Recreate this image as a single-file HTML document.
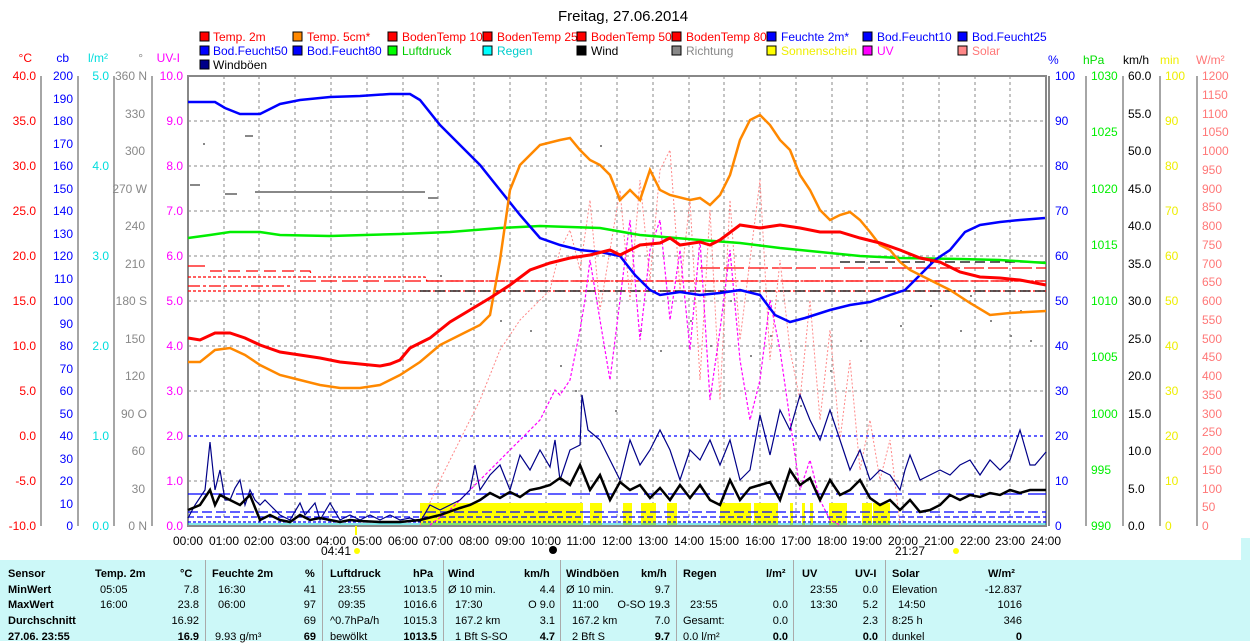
<!DOCTYPE html>
<html><head><meta charset="utf-8"><style>
html,body{margin:0;padding:0;background:#fff;width:1250px;height:641px;overflow:hidden}
svg text{font-family:"Liberation Sans",sans-serif;font-size:12px}
#tbl{position:absolute;left:0;top:560px;width:1250px;height:81px;background:#ccf8f8;font-family:"Liberation Sans",sans-serif;font-size:11px}
#tbl div{position:absolute;white-space:nowrap}
.b{font-weight:bold}
.sep{width:1px;height:81px;top:0;background:#aaa}
</style></head><body>
<svg width="1250" height="560" style="position:absolute;left:0;top:0" xmlns="http://www.w3.org/2000/svg">
<text x="623" y="21" text-anchor="middle" style="font-size:15px">Freitag, 27.06.2014</text>
<g id="legend" style="font-size:11.5px">
<rect x="200" y="32" width="9" height="9" fill="#f00" stroke="#000"/><text x="213" y="41" fill="#f00">Temp. 2m</text>
<rect x="293" y="32" width="9" height="9" fill="#f80" stroke="#000"/><text x="307" y="41" fill="#f00">Temp. 5cm*</text>
<rect x="388" y="32" width="9" height="9" fill="#f00" stroke="#000"/><text x="402" y="41" fill="#f00">BodenTemp 10</text>
<rect x="483" y="32" width="9" height="9" fill="#f00" stroke="#000"/><text x="497" y="41" fill="#f00">BodenTemp 25</text>
<rect x="577" y="32" width="9" height="9" fill="#f00" stroke="#000"/><text x="591" y="41" fill="#f00">BodenTemp 50</text>
<rect x="672" y="32" width="9" height="9" fill="#f00" stroke="#000"/><text x="686" y="41" fill="#f00">BodenTemp 80</text>
<rect x="767" y="32" width="9" height="9" fill="#00f" stroke="#000"/><text x="781" y="41" fill="#00f">Feuchte 2m*</text>
<rect x="863" y="32" width="9" height="9" fill="#00f" stroke="#000"/><text x="877" y="41" fill="#00f">Bod.Feucht10</text>
<rect x="958" y="32" width="9" height="9" fill="#00f" stroke="#000"/><text x="972" y="41" fill="#00f">Bod.Feucht25</text>
<rect x="200" y="46" width="9" height="9" fill="#00f" stroke="#000"/><text x="213" y="55" fill="#00f">Bod.Feucht50</text>
<rect x="293" y="46" width="9" height="9" fill="#00f" stroke="#000"/><text x="307" y="55" fill="#00f">Bod.Feucht80</text>
<rect x="388" y="46" width="9" height="9" fill="#0f0" stroke="#000"/><text x="402" y="55" fill="#0c0">Luftdruck</text>
<rect x="483" y="46" width="9" height="9" fill="#0ff" stroke="#000"/><text x="497" y="55" fill="#0cc">Regen</text>
<rect x="577" y="46" width="9" height="9" fill="#000" stroke="#000"/><text x="591" y="55">Wind</text>
<rect x="672" y="46" width="9" height="9" fill="#888" stroke="#000"/><text x="686" y="55" fill="#888">Richtung</text>
<rect x="767" y="46" width="9" height="9" fill="#ff0" stroke="#000"/><text x="781" y="55" fill="#ee0">Sonnenschein</text>
<rect x="863" y="46" width="9" height="9" fill="#f0f" stroke="#000"/><text x="877" y="55" fill="#f0f">UV</text>
<rect x="958" y="46" width="9" height="9" fill="#f88" stroke="#000"/><text x="972" y="55" fill="#f77">Solar</text>
<rect x="200" y="60" width="9" height="9" fill="#008" stroke="#000"/><text x="213" y="69">Windböen</text>
</g>
<!-- grid -->
<g stroke="#888" stroke-dasharray="3,3" stroke-width="1">
<path d="M188 121H1046M188 166H1046M188 211H1046M188 256H1046M188 301H1046M188 346H1046M188 391H1046M188 436H1046M188 481H1046"/>
<path d="M224 76V526M259 76V526M295 76V526M331 76V526M367 76V526M403 76V526M438 76V526M474 76V526M510 76V526M546 76V526M581 76V526M617 76V526M653 76V526M689 76V526M724 76V526M760 76V526M796 76V526M832 76V526M867 76V526M903 76V526M939 76V526M975 76V526M1010 76V526"/>
</g>
<rect x="188" y="76" width="858" height="450" fill="none" stroke="#888" stroke-width="2"/>
<line x1="1049" y1="76" x2="1049" y2="526" stroke="#888" stroke-width="2"/>
<!-- axes lines -->
<g stroke="#888" stroke-width="1.5" fill="none">
<path d="M41 76V526M78 76V526M114 76V526M152 76V526M1086 76V526M1123 76V526M1160 76V526M1197 76V526"/>
</g>
<g id="axl" style="font-size:12px" text-anchor="end">
<text x="32" y="62" fill="#f00">°C</text><text x="69" y="62" fill="#00f">cb</text><text x="108" y="62" fill="#0dd">l/m²</text><text x="143" y="62" fill="#888">°</text><text x="180" y="62" fill="#f0f">UV-I</text>
</g>
<g style="font-size:12px" fill="#f00" text-anchor="end">
<text x="36" y="80">40.0</text><text x="36" y="125">35.0</text><text x="36" y="170">30.0</text><text x="36" y="215">25.0</text><text x="36" y="260">20.0</text><text x="36" y="305">15.0</text><text x="36" y="350">10.0</text><text x="36" y="395">5.0</text><text x="36" y="440">0.0</text><text x="36" y="485">-5.0</text><text x="36" y="530">-10.0</text>
</g>
<g style="font-size:12px" fill="#00f" text-anchor="end">
<text x="73" y="80">200</text><text x="73" y="103">190</text><text x="73" y="125">180</text><text x="73" y="148">170</text><text x="73" y="170">160</text><text x="73" y="193">150</text><text x="73" y="215">140</text><text x="73" y="238">130</text><text x="73" y="260">120</text><text x="73" y="283">110</text><text x="73" y="305">100</text><text x="73" y="328">90</text><text x="73" y="350">80</text><text x="73" y="373">70</text><text x="73" y="395">60</text><text x="73" y="418">50</text><text x="73" y="440">40</text><text x="73" y="463">30</text><text x="73" y="485">20</text><text x="73" y="508">10</text><text x="73" y="530">0</text>
</g>
<g style="font-size:12px" fill="#0dd" text-anchor="end">
<text x="109" y="80">5.0</text><text x="109" y="170">4.0</text><text x="109" y="260">3.0</text><text x="109" y="350">2.0</text><text x="109" y="440">1.0</text><text x="109" y="530">0.0</text>
</g>
<g style="font-size:12px" fill="#888" text-anchor="end">
<text x="147" y="80">360 N</text><text x="145" y="118">330</text><text x="145" y="155">300</text><text x="147" y="193">270 W</text><text x="145" y="230">240</text><text x="145" y="268">210</text><text x="147" y="305">180 S</text><text x="145" y="343">150</text><text x="145" y="380">120</text><text x="147" y="418">90  O</text><text x="145" y="455">60</text><text x="145" y="493">30</text><text x="147" y="530">0    N</text>
</g>
<g style="font-size:12px" fill="#f0f" text-anchor="end">
<text x="183" y="80">10.0</text><text x="183" y="125">9.0</text><text x="183" y="170">8.0</text><text x="183" y="215">7.0</text><text x="183" y="260">6.0</text><text x="183" y="305">5.0</text><text x="183" y="350">4.0</text><text x="183" y="395">3.0</text><text x="183" y="440">2.0</text><text x="183" y="485">1.0</text><text x="183" y="530">0.0</text>
</g>
<!-- right axes -->
<g style="font-size:12px">
<text x="1048" y="64" fill="#00f">%</text><text x="1083" y="64" fill="#0d0">hPa</text><text x="1123" y="64">km/h</text><text x="1160" y="64" fill="#ee0">min</text><text x="1196" y="64" fill="#f77">W/m²</text>
</g>
<g style="font-size:12px" fill="#00f">
<text x="1055" y="80">100</text><text x="1055" y="125">90</text><text x="1055" y="170">80</text><text x="1055" y="215">70</text><text x="1055" y="260">60</text><text x="1055" y="305">50</text><text x="1055" y="350">40</text><text x="1055" y="395">30</text><text x="1055" y="440">20</text><text x="1055" y="485">10</text><text x="1055" y="530">0</text>
</g>
<g style="font-size:12px" fill="#0e0">
<text x="1091" y="80">1030</text><text x="1091" y="136">1025</text><text x="1091" y="193">1020</text><text x="1091" y="249">1015</text><text x="1091" y="305">1010</text><text x="1091" y="361">1005</text><text x="1091" y="418">1000</text><text x="1091" y="474">995</text><text x="1091" y="530">990</text>
</g>
<g style="font-size:12px">
<text x="1128" y="80">60.0</text><text x="1128" y="118">55.0</text><text x="1128" y="155">50.0</text><text x="1128" y="193">45.0</text><text x="1128" y="230">40.0</text><text x="1128" y="268">35.0</text><text x="1128" y="305">30.0</text><text x="1128" y="343">25.0</text><text x="1128" y="380">20.0</text><text x="1128" y="418">15.0</text><text x="1128" y="455">10.0</text><text x="1128" y="493">5.0</text><text x="1128" y="530">0.0</text>
</g>
<g style="font-size:12px" fill="#ee0">
<text x="1165" y="80">100</text><text x="1165" y="125">90</text><text x="1165" y="170">80</text><text x="1165" y="215">70</text><text x="1165" y="260">60</text><text x="1165" y="305">50</text><text x="1165" y="350">40</text><text x="1165" y="395">30</text><text x="1165" y="440">20</text><text x="1165" y="485">10</text><text x="1165" y="530">0</text>
</g>
<g style="font-size:12px" fill="#f77">
<text x="1202" y="80">1200</text><text x="1202" y="99">1150</text><text x="1202" y="118">1100</text><text x="1202" y="136">1050</text><text x="1202" y="155">1000</text><text x="1202" y="174">950</text><text x="1202" y="193">900</text><text x="1202" y="211">850</text><text x="1202" y="230">800</text><text x="1202" y="249">750</text><text x="1202" y="268">700</text><text x="1202" y="286">650</text><text x="1202" y="305">600</text><text x="1202" y="324">550</text><text x="1202" y="343">500</text><text x="1202" y="361">450</text><text x="1202" y="380">400</text><text x="1202" y="399">350</text><text x="1202" y="418">300</text><text x="1202" y="436">250</text><text x="1202" y="455">200</text><text x="1202" y="474">150</text><text x="1202" y="493">100</text><text x="1202" y="511">50</text><text x="1202" y="530">0</text>
</g>
<!-- x labels -->
<g style="font-size:12px" text-anchor="middle">
<text x="188" y="545">00:00</text><text x="224" y="545">01:00</text><text x="259" y="545">02:00</text><text x="295" y="545">03:00</text><text x="331" y="545">04:00</text><text x="367" y="545">05:00</text><text x="403" y="545">06:00</text><text x="438" y="545">07:00</text><text x="474" y="545">08:00</text><text x="510" y="545">09:00</text><text x="546" y="545">10:00</text><text x="581" y="545">11:00</text><text x="617" y="545">12:00</text><text x="653" y="545">13:00</text><text x="689" y="545">14:00</text><text x="724" y="545">15:00</text><text x="760" y="545">16:00</text><text x="796" y="545">17:00</text><text x="832" y="545">18:00</text><text x="867" y="545">19:00</text><text x="903" y="545">20:00</text><text x="939" y="545">21:00</text><text x="975" y="545">22:00</text><text x="1010" y="545">23:00</text><text x="1046" y="545">24:00</text>
<text x="336" y="555">04:41</text><text x="910" y="555">21:27</text>
</g>
<circle cx="357" cy="551" r="3" fill="#ff0"/><circle cx="956" cy="551" r="3" fill="#ff0"/>
<circle cx="553" cy="550" r="4" fill="#000"/>
<line x1="356" y1="526" x2="356" y2="535" stroke="#ff0" stroke-width="2"/>
<!-- sunshine -->
<g fill="#ff0">
<rect x="420" y="503" width="163" height="22"/><rect x="590" y="503" width="12" height="22"/><rect x="623" y="503" width="9" height="22"/><rect x="641" y="503" width="15" height="22"/><rect x="667" y="503" width="10" height="22"/><rect x="720" y="503" width="31" height="22"/><rect x="754" y="503" width="24" height="22"/><rect x="790" y="503" width="3" height="22"/><rect x="802" y="503" width="3" height="22"/><rect x="810" y="503" width="3" height="22"/><rect x="829" y="503" width="18" height="22"/><rect x="862" y="503" width="10" height="22"/><rect x="873" y="503" width="17" height="22"/>
</g>
<!-- dashed ref lines -->
<g fill="none" stroke-width="1.3">
<path d="M188 436H1046" stroke="#00f" stroke-dasharray="3,3"/>
<path d="M188 494H1046" stroke="#00f" stroke-dasharray="18,6"/>
<path d="M188 512H1046" stroke="#00f" stroke-dasharray="10,4"/>
<path d="M188 517H1046" stroke="#00f" stroke-dasharray="6,3"/>
<path d="M188 522H1046" stroke="#00f" stroke-dasharray="3,2"/>
<path d="M188 524H1046" stroke="#0cc" stroke-width="1"/>
<path d="M188 266H205" stroke="#f00"/>
<path d="M210 271H310L312 276" stroke="#f00" stroke-dasharray="12,6"/>
<path d="M188 277H425L427 281H1046" stroke="#f00" stroke-dasharray="3,2"/>
<path d="M300 281H1046" stroke="#f00" stroke-dasharray="16,5"/>
<path d="M188 286H290" stroke="#f00" stroke-dasharray="12,3,3,3"/>
<path d="M188 291H1046" stroke="#f00" stroke-dasharray="3,2"/>
<path d="M700 268H1046" stroke="#f00" stroke-dasharray="20,4"/>
<path d="M420 291H1046" stroke="#000" stroke-dasharray="10,5"/>
<path d="M840 262H1046" stroke="#000" stroke-dasharray="10,5"/>
</g>
<!-- direction dots -->
<g fill="#888">
<rect x="190" y="184" width="10" height="2"/><rect x="203" y="143" width="2" height="2"/><rect x="245" y="135" width="8" height="2"/><rect x="225" y="193" width="12" height="2"/><rect x="255" y="191" width="170" height="2"/><rect x="428" y="197" width="10" height="2"/>
<rect x="440" y="275" width="2" height="2"/><rect x="470" y="303" width="2" height="2"/><rect x="500" y="320" width="2" height="2"/><rect x="530" y="330" width="2" height="2"/><rect x="560" y="365" width="2" height="2"/><rect x="575" y="390" width="2" height="2"/><rect x="600" y="145" width="2" height="2"/><rect x="615" y="410" width="2" height="2"/><rect x="640" y="330" width="2" height="2"/><rect x="660" y="350" width="2" height="2"/><rect x="690" y="320" width="2" height="2"/><rect x="710" y="345" width="2" height="2"/><rect x="730" y="300" width="2" height="2"/><rect x="750" y="355" width="2" height="2"/><rect x="770" y="335" width="2" height="2"/><rect x="800" y="405" width="2" height="2"/><rect x="830" y="370" width="2" height="2"/><rect x="860" y="340" width="2" height="2"/><rect x="900" y="325" width="2" height="2"/><rect x="930" y="305" width="2" height="2"/><rect x="960" y="330" width="2" height="2"/><rect x="990" y="320" width="2" height="2"/><rect x="1010" y="335" width="2" height="2"/><rect x="1030" y="340" width="2" height="2"/><rect x="1020" y="310" width="2" height="2"/><rect x="970" y="295" width="2" height="2"/>
</g>
<!-- solar -->
<polyline fill="none" stroke="#f88" stroke-width="1" stroke-dasharray="2,2" points="420,525 440,480 460,440 480,400 500,350 520,320 550,290 560,250 570,230 580,270 590,200 600,310 610,250 620,190 630,300 640,180 650,280 660,170 670,150 680,290 690,200 700,380 710,210 720,400 730,200 740,340 750,260 760,180 770,360 780,260 790,350 800,400 810,300 820,420 830,330 840,440 850,360 860,470 870,420 880,480 890,440 900,525"/>
<!-- UV -->
<polyline fill="none" stroke="#f0f" stroke-width="1.2" stroke-dasharray="3,2" points="430,525 450,510 480,480 510,450 540,420 555,390 560,395 570,380 580,330 585,300 590,260 600,320 610,380 620,300 630,220 640,340 650,250 660,220 670,320 680,250 690,350 700,240 710,400 720,330 730,250 740,360 750,420 760,380 770,300 780,350 790,420 800,490 810,460 820,500 830,520 840,525"/>
<!-- gusts -->
<polyline fill="none" stroke="#008" stroke-width="1.2" points="188,518 195,505 205,490 210,442 215,490 220,470 225,500 230,500 235,488 240,480 245,505 250,490 255,500 260,505 265,500 270,505 280,515 290,520 300,503 305,515 315,503 320,520 330,503 340,520 350,515 360,520 370,515 380,520 390,515 400,520 410,518 420,522 430,505 440,510 450,505 460,500 470,490 475,465 480,490 490,475 500,465 510,490 520,455 530,470 540,450 550,467 555,440 560,480 570,450 580,445 582,395 588,430 600,440 610,460 620,480 630,440 640,465 650,450 660,430 670,450 680,480 690,450 700,460 710,440 720,465 730,440 740,480 750,470 760,415 770,455 780,410 790,430 800,395 810,420 820,440 830,410 840,440 850,470 860,450 870,480 880,470 890,475 900,490 905,470 910,455 920,480 930,475 940,470 950,475 960,465 970,460 980,475 990,460 1000,470 1010,460 1020,430 1030,465 1035,465 1046,452"/>
<!-- wind -->
<polyline fill="none" stroke="#000" stroke-width="2.5" points="188,510 200,505 210,490 215,505 220,495 230,500 240,505 250,495 260,520 270,515 280,520 290,522 300,515 310,520 320,518 330,520 340,522 350,520 360,521 380,522 400,522 420,520 440,515 460,508 470,505 480,500 490,493 500,498 510,492 520,497 530,490 540,488 550,485 560,478 570,485 580,465 590,490 600,475 610,500 620,482 630,490 640,485 650,498 660,488 670,500 680,485 690,498 700,485 710,500 720,505 730,480 740,500 750,488 760,485 770,482 780,500 790,470 800,485 810,478 820,500 830,480 840,495 850,490 860,480 870,498 880,505 890,500 900,510 910,500 920,512 930,510 940,505 950,495 960,500 970,495 980,497 990,493 1000,495 1010,490 1020,493 1030,490 1046,490"/>
<!-- pressure -->
<polyline fill="none" stroke="#0e0" stroke-width="2.5" points="188,238 210,235 230,232 260,232 280,235 330,236 400,234 450,232 500,228 540,226 600,228 640,235 700,240 740,243 780,248 820,252 860,256 900,258 960,259 1000,260 1046,263"/>
<!-- humidity -->
<polyline fill="none" stroke="#00f" stroke-width="2.5" points="188,102 215,102 225,108 240,114 260,114 280,104 300,100 330,97 360,96 390,94 410,94 420,100 440,125 460,145 480,165 500,190 520,215 540,238 560,245 580,250 600,252 620,256 635,275 650,290 660,295 680,292 700,295 720,293 740,290 760,295 775,315 790,322 805,318 830,310 850,305 870,302 890,295 905,290 920,275 935,260 950,250 965,232 980,225 1000,222 1020,220 1045,218"/>
<!-- temp 5cm -->
<polyline fill="none" stroke="#f80" stroke-width="2.5" points="188,362 200,362 215,350 230,348 245,355 260,365 280,375 300,380 320,385 340,388 360,388 380,385 400,375 420,362 440,345 460,335 480,325 490,315 500,260 510,190 520,165 540,145 560,140 570,138 580,150 590,160 600,165 610,175 620,200 630,190 640,200 650,170 660,190 670,195 690,200 700,198 710,205 720,195 730,175 740,140 750,120 760,115 770,125 780,140 790,150 800,175 810,190 820,210 830,220 840,215 850,212 860,220 870,232 880,245 890,250 900,262 910,270 930,280 950,290 970,303 990,315 1010,313 1046,311"/>
<!-- temp 2m -->
<polyline fill="none" stroke="#f00" stroke-width="3" points="188,338 200,340 215,333 230,333 245,338 260,345 280,352 300,355 320,358 340,362 360,364 380,366 390,364 400,360 410,348 430,338 450,322 470,310 490,298 510,285 530,270 550,263 570,258 590,255 610,250 620,255 630,250 640,245 660,243 670,238 680,245 700,242 710,245 720,240 740,225 760,228 780,225 800,228 820,232 840,232 860,238 880,243 900,250 920,258 940,262 960,272 980,277 1000,278 1020,280 1046,285"/>
</svg>
<div id="tbl">
<div class="sep" style="left:205px"></div><div class="sep" style="left:322px"></div><div class="sep" style="left:443px"></div><div class="sep" style="left:560px"></div><div class="sep" style="left:676px"></div><div class="sep" style="left:793px"></div><div class="sep" style="left:885px"></div>
<div class="b" style="left:8px;top:8px">Sensor</div><div class="b" style="left:8px;top:24px">MinWert</div><div class="b" style="left:8px;top:39px">MaxWert</div><div class="b" style="left:8px;top:55px">Durchschnitt</div><div class="b" style="left:8px;top:71px">27.06. 23:55</div>
<div class="b" style="left:95px;top:8px">Temp. 2m</div><div class="b" style="left:180px;top:8px">°C</div>
<div style="left:100px;top:24px">05:05</div><div style="left:100px;top:39px">16:00</div>
<div style="right:1051px;top:24px">7.8</div><div style="right:1051px;top:39px">23.8</div><div style="right:1051px;top:55px">16.92</div><div class="b" style="right:1051px;top:71px">16.9</div>
<div class="b" style="left:212px;top:8px">Feuchte 2m</div><div class="b" style="left:305px;top:8px">%</div>
<div style="left:218px;top:24px">16:30</div><div style="left:218px;top:39px">06:00</div><div style="left:215px;top:71px">9.93 g/m³</div>
<div style="right:934px;top:24px">41</div><div style="right:934px;top:39px">97</div><div style="right:934px;top:55px">69</div><div class="b" style="right:934px;top:71px">69</div>
<div class="b" style="left:330px;top:8px">Luftdruck</div><div class="b" style="left:413px;top:8px">hPa</div>
<div style="left:338px;top:24px">23:55</div><div style="left:338px;top:39px">09:35</div><div style="left:330px;top:55px">^0.7hPa/h</div><div style="left:330px;top:71px">bewölkt</div>
<div style="right:813px;top:24px">1013.5</div><div style="right:813px;top:39px">1016.6</div><div style="right:813px;top:55px">1015.3</div><div class="b" style="right:813px;top:71px">1013.5</div>
<div class="b" style="left:448px;top:8px">Wind</div><div class="b" style="left:524px;top:8px">km/h</div>
<div style="left:448px;top:24px">Ø 10 min.</div><div style="left:455px;top:39px">17:30</div><div style="left:455px;top:55px">167.2 km</div><div style="left:455px;top:71px">1 Bft S-SO</div>
<div style="right:695px;top:24px">4.4</div><div style="right:695px;top:39px">O 9.0</div><div style="right:695px;top:55px">3.1</div><div class="b" style="right:695px;top:71px">4.7</div>
<div class="b" style="left:566px;top:8px">Windböen</div><div class="b" style="left:641px;top:8px">km/h</div>
<div style="left:566px;top:24px">Ø 10 min.</div><div style="left:572px;top:39px">11:00</div><div style="left:572px;top:55px">167.2 km</div><div style="left:572px;top:71px">2 Bft S</div>
<div style="right:580px;top:24px">9.7</div><div style="right:580px;top:39px">O-SO 19.3</div><div style="right:580px;top:55px">7.0</div><div class="b" style="right:580px;top:71px">9.7</div>
<div class="b" style="left:683px;top:8px">Regen</div><div class="b" style="left:766px;top:8px">l/m²</div>
<div style="left:690px;top:39px">23:55</div><div style="left:683px;top:55px">Gesamt:</div><div style="left:683px;top:71px">0.0 l/m²</div>
<div style="right:462px;top:39px">0.0</div><div style="right:462px;top:55px">0.0</div><div class="b" style="right:462px;top:71px">0.0</div>
<div class="b" style="left:802px;top:8px">UV</div><div class="b" style="left:855px;top:8px">UV-I</div>
<div style="left:810px;top:24px">23:55</div><div style="left:810px;top:39px">13:30</div>
<div style="right:372px;top:24px">0.0</div><div style="right:372px;top:39px">5.2</div><div style="right:372px;top:55px">2.3</div><div class="b" style="right:372px;top:71px">0.0</div>
<div class="b" style="left:892px;top:8px">Solar</div><div class="b" style="left:988px;top:8px">W/m²</div>
<div style="left:892px;top:24px">Elevation</div><div style="left:898px;top:39px">14:50</div><div style="left:892px;top:55px">8:25 h</div><div style="left:892px;top:71px">dunkel</div>
<div style="right:228px;top:24px">-12.837</div><div style="right:228px;top:39px">1016</div><div style="right:228px;top:55px">346</div><div class="b" style="right:228px;top:71px">0</div>
</div>
<div style="position:absolute;left:1241px;top:538px;width:9px;height:22px;background:#ccf8f8"></div>
</body></html>
